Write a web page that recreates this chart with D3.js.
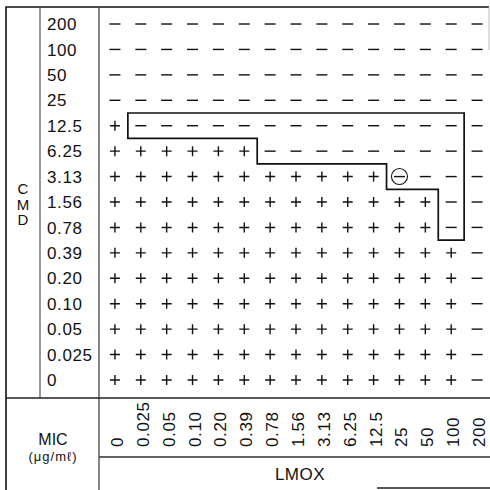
<!DOCTYPE html>
<html>
<head>
<meta charset="utf-8">
<style>
  body { margin: 0; background: #fff; }
  svg { display: block; }
  text { font-family: "Liberation Sans Narrow", "Liberation Sans", Arial, sans-serif; fill: #111; }
</style>
</head>
<body>
<svg width="490" height="490"></svg>
<script src="https://cdn.jsdelivr.net/npm/d3@7/dist/d3.min.js"></script>
<script>
// CMD concentrations (rows, top to bottom)
var cmd = ["200", "100", "50", "25", "12.5", "6.25", "3.13", "1.56", "0.78", "0.39", "0.20", "0.10", "0.05", "0.025", "0"];
// LMOX MIC concentrations (columns, left to right)
var mic = ["0", "0.025", "0.05", "0.10", "0.20", "0.39", "0.78", "1.56", "3.13", "6.25", "12.5", "25", "50", "100", "200"];
// growth result per row: + growth, - no growth, o circled minus
var results = [
    "---------------",
    "---------------",
    "---------------",
    "---------------",
    "+--------------",
    "++++++---------",
    "+++++++++++o---",
    "+++++++++++++--",
    "+++++++++++++--",
    "++++++++++++++-",
    "++++++++++++++-",
    "++++++++++++++-",
    "++++++++++++++-",
    "++++++++++++++-",
    "++++++++++++++-"
];
// outline of the enclosed region, as [column edge, row edge]
var outline = [[1, 4], [14, 4], [14, 9], [13, 9], [13, 7], [11, 7], [11, 6], [6, 6], [6, 5], [1, 5]];

var svg = d3.select("svg");

var x = d3.scaleBand().domain(mic).range([102, 490]);
var y = d3.scaleBand().domain(cmd).range([11.3, 392.7]);

function xEdge(i) { return x.range()[0] + i * x.step(); }
function yEdge(i) { return y.range()[0] + i * y.step(); }

// table frame
var frame = svg.append("g").attr("fill", "none");
frame.append("path").attr("stroke", "#111").attr("stroke-width", 1.6)
    .attr("d", "M6,490 V7 H489");
frame.append("path").attr("stroke", "#bbb").attr("stroke-width", 1)
    .attr("d", "M489,7 V50");
frame.append("path").attr("stroke", "#555").attr("stroke-width", 1.2)
    .attr("d", "M40,7 V398");
frame.append("path").attr("stroke", "#444").attr("stroke-width", 1.3)
    .attr("d", "M99,7 V490");
frame.append("path").attr("stroke", "#222").attr("stroke-width", 1.4)
    .attr("d", "M6,398 H490");
frame.append("path").attr("stroke", "#333").attr("stroke-width", 1.3)
    .attr("d", "M99,457 H490");
frame.append("path").attr("stroke", "#222").attr("stroke-width", 1.6)
    .attr("d", "M377,488 H490");

// row labels
svg.append("g").selectAll("text")
    .data(cmd)
    .enter().append("text")
    .attr("x", 47)
    .attr("y", function(d) { return y(d) + y.bandwidth() / 2; })
    .attr("dy", "0.36em")
    .attr("font-size", 17)
    .attr("letter-spacing", 0.6)
    .text(function(d) { return d; });

// CMD axis title, stacked letters
svg.append("g").selectAll("text")
    .data(["C", "M", "D"])
    .enter().append("text")
    .attr("x", 23)
    .attr("y", function(d, i) { return 194 + i * 15.5; })
    .attr("text-anchor", "middle")
    .attr("font-family", "Liberation Sans, Arial, sans-serif")
    .attr("font-size", 15)
    .text(function(d) { return d; });

// cells
var cells = [];
results.forEach(function(r, i) {
    r.split("").forEach(function(s, j) {
        cells.push({ row: cmd[i], col: mic[j], s: s });
    });
});

var cell = svg.append("g")
    .attr("stroke", "#111")
    .attr("stroke-width", 1.4)
    .attr("fill", "none")
    .selectAll("g")
    .data(cells)
    .enter().append("g")
    .attr("transform", function(d) {
        return "translate(" + (x(d.col) + x.bandwidth() / 2) + "," + (y(d.row) + y.bandwidth() / 2) + ")";
    });

cell.append("path")
    .attr("d", function(d) {
        return d.s === "+" ? "M-5,0 H5 M0,-5 V5" : "M-5.5,0 H5.5";
    });

cell.filter(function(d) { return d.s === "o"; })
    .append("circle")
    .attr("r", 8)
    .attr("stroke-width", 1.1);

// enclosed region
svg.append("path")
    .datum(outline)
    .attr("fill", "none")
    .attr("stroke", "#111")
    .attr("stroke-width", 1.7)
    .attr("d", d3.line()
        .x(function(d) { return xEdge(d[0]); })
        .y(function(d) { return yEdge(d[1]); })
        .curve(d3.curveLinearClosed));

// column labels, rotated
svg.append("g").selectAll("text")
    .data(mic)
    .enter().append("text")
    .attr("transform", function(d) {
        return "translate(" + (x(d) + x.bandwidth() / 2 + 8) + ",447) rotate(-90)";
    })
    .attr("font-size", 17)
    .attr("letter-spacing", 0.6)
    .text(function(d) { return d; });

svg.append("text")
    .attr("x", 53).attr("y", 445)
    .attr("text-anchor", "middle")
    .attr("font-family", "Liberation Sans, Arial, sans-serif")
    .attr("font-size", 16)
    .text("MIC");

svg.append("text")
    .attr("x", 53).attr("y", 461)
    .attr("text-anchor", "middle")
    .attr("font-family", "Liberation Serif, serif")
    .attr("font-size", 13)
    .attr("letter-spacing", 1)
    .text("(μg/mℓ)");

svg.append("text")
    .attr("x", 300).attr("y", 480)
    .attr("text-anchor", "middle")
    .attr("font-family", "Liberation Sans, Arial, sans-serif")
    .attr("font-size", 17)
    .attr("letter-spacing", 0.5)
    .text("LMOX");
</script>
</body>
</html>
